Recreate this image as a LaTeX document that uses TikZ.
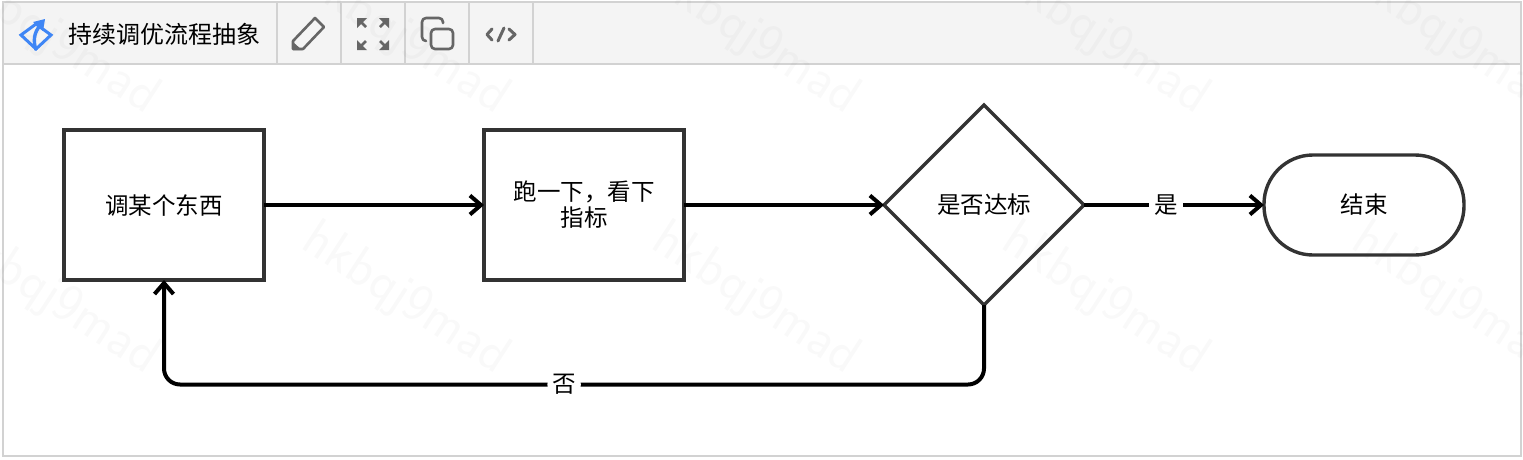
\documentclass[tikz,border=0pt]{standalone}
\usepackage{fontspec}
\setmainfont{Noto Sans CJK SC}
\usepackage{xcolor}
\usetikzlibrary{shapes,positioning,calc,arrows.meta}
\definecolor{barfill}{HTML}{F4F4F4}
\definecolor{barline}{HTML}{D2D2D2}
\definecolor{iconcol}{HTML}{666666}
\definecolor{logocol}{HTML}{3F86F5}
\definecolor{boxline}{HTML}{333333}

\begin{document}
\begin{tikzpicture}[x=1pt, y=1pt, outer sep=0pt,
        block/.style={draw=boxline, rectangle, line width=4pt, minimum width=200pt, minimum height=150pt, align=center, font=\fontsize{23.5}{26}\selectfont},
        check/.style={draw=boxline, diamond, line width=3.4pt, minimum size=200pt, inner sep=0pt, align=center, font=\fontsize{23.5}{26}\selectfont},
        term/.style={draw=boxline, rectangle, rounded corners=49pt, line width=3.4pt, minimum width=200pt, minimum height=100pt, align=center, font=\fontsize{23.5}{26}\selectfont},
        tag/.style={fill=white, inner sep=5pt, font=\fontsize{23.5}{26}\selectfont},
        flow/.style={->, line width=4pt},
        icon/.style={draw=iconcol, line width=2.6pt, line cap=round, line join=round},
        >={Straight Barb[length=11pt, width=19pt, line width=4pt]}
    ]
        \useasboundingbox (0,0) rectangle (1523,-459);
        % frame and toolbar
        \fill [barfill] (3,-2) rectangle (1521,-64);
        \draw [barline, line width=2.2pt] (3,-2) rectangle (1521,-456);
        \draw [barline, line width=2.2pt] (3,-64) -- (1521,-64);
        \foreach \sepx in {277,341,405,469,533}
            \draw [barline, line width=2pt] (\sepx,-2) -- (\sepx,-64);

        % watermark
        \foreach \markx in {55,405,755,1105,1455}
            \foreach \marky in {-40,-300}
                \node [text=black, text opacity=0.025, rotate=-33, font=\fontsize{54}{54}\selectfont\sffamily] (mark\markx\marky) at (\markx,\marky) {hkbqj9mad};

        % title and icons
        \node [anchor=west, inner sep=0pt, font=\fontsize{24}{24}\selectfont] (title) at (68,-34) {持续调优流程抽象};
        \draw [logocol, line width=3pt, line join=miter] (21,-35) -- (36,-24) -- (51,-35) -- (36,-49) -- cycle;
        \draw [logocol, line width=3.4pt] (36,-50) .. controls (33,-41) and (34,-32) .. (40,-26);
        \fill [logocol] (33,-22) -- (45,-19) -- (43,-31) -- cycle;
        \draw [icon] (293,-49) -- (293,-41) -- (315,-18) -- (324,-27) -- (303,-49) -- cycle;
        \fill [iconcol] (293,-50) -- (293,-42) -- (302,-50) -- cycle;
        \foreach \sx/\sy in {1/1,-1/1,1/-1,-1/-1} {
            \begin{scope}[shift={(373,-34)}, xscale=\sx, yscale=\sy]
                \draw [iconcol, line width=2.8pt] (7,7) -- (13,13);
                \fill [iconcol] (16,16) -- (16,6) -- (6,16) -- cycle;
            \end{scope}
        }
        \draw [icon, rounded corners=4pt] (426,-41) -- (422,-41) -- (422,-18) -- (443,-18) -- (443,-23);
        \draw [icon, rounded corners=4pt] (431,-29) rectangle (453,-49);
        \draw [icon, line width=3pt] (492,-29) -- (487,-34.5) -- (492,-40) (509,-29) -- (515,-34.5) -- (509,-40) (504,-28) -- (498,-41);

        % flow chart
        \node [block] (tune) at (164,-205) {调某个东西};
        \node [block, right=220pt of tune] (run) {跑一下，看下\\指标};
        \node [check, right=200pt of run] (goal) {是否达标};
        \node [term, right=180pt of goal] (done) {结束};
        \coordinate [below=179.5pt of goal.center] (turn);

        \draw [flow] (tune) -- (run);
        \draw [flow] (run) -- (goal);
        \draw [flow] (goal) -- node[tag, pos=0.455] (yes) {是} (done);
        \draw [flow, rounded corners=16pt] (goal.south) -- (turn) -| node[tag, pos=0.256] (no) {否} (tune.south);
    \end{tikzpicture}
\end{document}
